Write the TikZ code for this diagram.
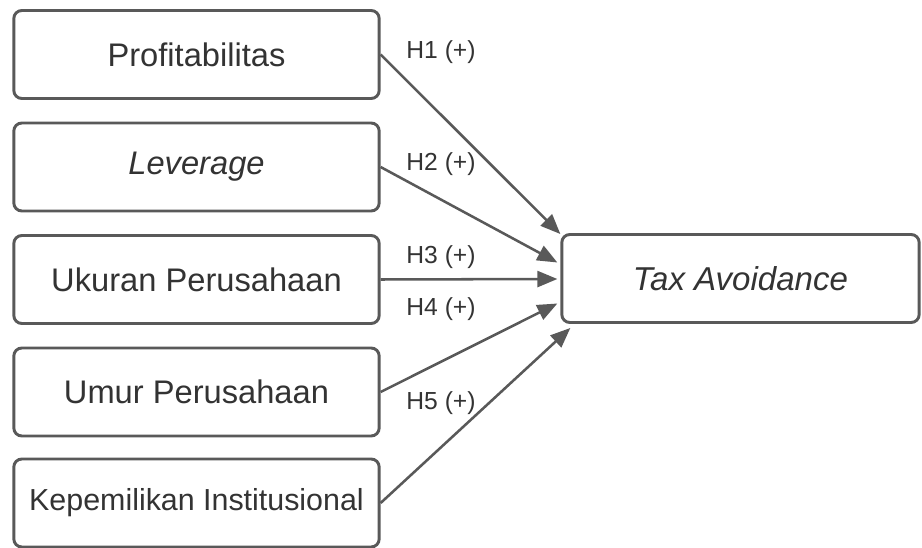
\documentclass[tikz,border=0pt]{standalone}
\usepackage{fontspec}
\setmainfont{Liberation Sans}
\usetikzlibrary{arrows.meta,calc}
\definecolor{edge}{HTML}{595959}
\definecolor{txt}{HTML}{333333}
\tikzset{
  varbox/.style={draw=edge, line width=2.2pt, rounded corners=6pt, fill=white,
    minimum width=274pt, minimum height=66pt, inner sep=0pt, text=txt,
    font=\fontsize{24.5}{28}\selectfont},
  conn/.style={draw=edge, line width=1.9pt, -{Triangle[length=15pt,width=12pt]}},
  hlabel/.style={text=txt, font=\fontsize{18.5}{22}\selectfont, inner sep=0pt}
}
\begin{document}
\begin{tikzpicture}[x=0.75pt,y=-0.75pt]
\useasboundingbox (0,0) rectangle (922,548);
\node[varbox] (p) at (196.5,54.5) {Profitabilitas};
\node[varbox] (l) at (196.5,167) {\itshape Leverage};
\node[varbox] (u) at (196.5,279.5) {Ukuran Perusahaan};
\node[varbox] (m) at (196.5,392) {Umur Perusahaan};
\node[varbox, font=\fontsize{22.8}{26}\selectfont] (k) at (196.5,503) {Kepemilikan Institusional};
\node[varbox, minimum width=268pt, font=\fontsize{24.8}{28}\selectfont] (t) at (740.5,278.5) {\itshape Tax Avoidance};
\coordinate (t1) at ($(t.north west)+(0,1)$);
\coordinate (t2) at ($(t.west)+(-3,-16)$);
\coordinate (t3) at ($(t.west)+(-3,0.5)$);
\coordinate (t4) at ($(t.west)+(-3,25)$);
\coordinate (t5) at ($(t.south west)+(10,4)$);
\draw[conn] (p.east) -- (t1);
\draw[conn] (l.east) -- (t2);
\draw[conn] (u.east) -- (t3);
\draw[conn] (m.east) -- (t4);
\draw[conn] (k.east) -- (t5);
\node[hlabel] (h1) at (441,52) {H1 (+)};
\node[hlabel] (h2) at (441,164) {H2 (+)};
\node[hlabel] (h3) at (441,257) {H3 (+)};
\node[hlabel] (h4) at (441,309) {H4 (+)};
\node[hlabel] (h5) at (441,403) {H5 (+)};
\end{tikzpicture}
\end{document}
